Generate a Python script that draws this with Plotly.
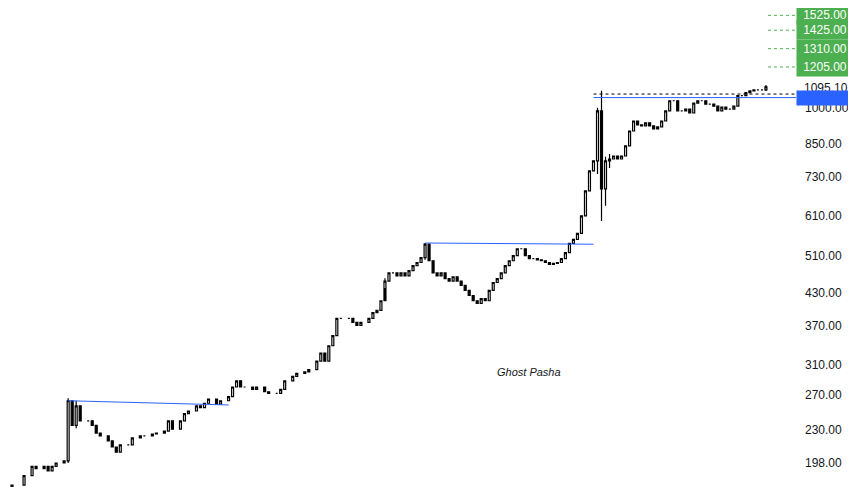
import math
import plotly.graph_objects as go

# bar number (session index) and closing price
bars = [1, 4, 6, 7, 9, 10, 11, 12, 14, 15, 16, 17, 18, 20, 21, 22, 23, 25, 26, 27, 28, 30, 31, 33, 34,
        36, 37, 39, 40, 41, 43, 44, 45, 47, 48, 49, 50, 52, 53, 55, 56, 57, 58, 59, 61, 62, 64, 65, 67,
        68, 69, 71, 72, 74, 75, 77, 78, 79, 80, 81, 82, 83, 85, 86, 87, 88, 90, 91, 92, 93, 94, 95, 96,
        97, 98, 99, 100, 101, 102, 103, 104, 105, 106, 107, 108, 109, 110, 111, 112, 113, 114, 115, 116,
        117, 118, 119, 120, 121, 122, 123, 124, 125, 126, 127, 128, 129, 130, 131, 132, 133, 134, 135,
        136, 137, 138, 139, 140, 141, 142, 143, 144, 145, 146, 147, 148, 149, 150, 151, 152, 153, 154,
        155, 156, 157, 158, 159, 160, 161, 162, 163, 164, 165, 166, 167, 168, 169, 170, 171, 172, 173,
        174, 175, 176, 177, 178, 179, 180, 181, 182, 183, 184, 185, 186, 187, 188, 189]
closes = [179, 187, 195, 193, 195, 191, 195, 198, 200, 263, 235, 257, 240, 240, 235, 227, 224, 219, 213,
          208, 215, 215, 222, 224, 224, 226, 227, 229, 240, 231, 240, 248, 251, 257, 255, 260, 265, 259,
          263, 268, 280, 288, 280, 280, 277, 280, 274, 272, 272, 277, 288, 294, 298, 300, 303, 315, 327,
          315, 338, 354, 383, 383, 383, 376, 371, 376, 383, 393, 397, 415, 454, 471, 471, 465, 471, 465,
          476, 487, 494, 505, 537, 498, 471, 465, 471, 459, 454, 463, 454, 445, 435, 425, 415, 410, 419,
          415, 435, 451, 459, 471, 487, 498, 510, 526, 526, 510, 503, 503, 500, 498, 494, 490, 492, 494,
          503, 517, 539, 549, 564, 611, 685, 750, 785, 986, 691, 785, 792, 803, 792, 803, 841, 900, 942,
          925, 921, 934, 921, 909, 917, 942, 986, 1033, 1033, 986, 986, 994, 977, 1022, 1033, 1033, 1017,
          1017, 1008, 986, 1003, 994, 994, 1008, 1057, 1057, 1072, 1081, 1086, 1086, 1086, 1101]
first_open = 176
# notable wicks: bar -> (high, low)
wicks = {15: (266, 198), 17: (263, 232), 104: (540, 500), 148: (1081, 597), 147: (1000, 740),
         149: (800, 640), 150: (810, 760), 94: (460, 440), 189: (1110, 1080)}

# horizontal levels drawn on the chart
trend_lines = [((15, 263), (55, 258)), ((104, 540), (146, 537))]
level_blue = 1048
level_dotted = 1065
targets = [1525, 1425, 1310, 1205]
axis_ticks = [198, 230, 270, 310, 370, 430, 510, 610, 730, 850, 1000]

opens = [first_open] + closes[:-1]
highs, lows = [], []
for b, o, c in zip(bars, opens, closes):
    h, l = wicks.get(b, (max(o, c), min(o, c)))
    highs.append(h)
    lows.append(l)

fig = go.Figure()
fig.add_trace(go.Candlestick(
    x=bars, open=opens, high=highs, low=lows, close=closes,
    increasing=dict(line=dict(color="black", width=1.2), fillcolor="white"),
    decreasing=dict(line=dict(color="black", width=1.2), fillcolor="black"),
    whiskerwidth=0, showlegend=False,
))

for (x0, y0), (x1, y1) in trend_lines:
    fig.add_trace(go.Scatter(x=[x0, x1], y=[y0, y1], mode="lines",
                             line=dict(color="#2962ff", width=1), showlegend=False))

fig.add_shape(type="line", xref="x", x0=146, x1=198, y0=level_blue, y1=level_blue,
              line=dict(color="#2962ff", width=1))
fig.add_shape(type="line", xref="x", x0=146, x1=198, y0=level_dotted, y1=level_dotted,
              line=dict(color="black", width=1, dash="dot"))

font = dict(size=12, family="Liberation Sans")
for t in targets:
    fig.add_shape(type="line", xref="x", x0=189.5, x1=198, y0=t, y1=t,
                  line=dict(color="#4caf50", width=1, dash="dot"))
    fig.add_annotation(xref="paper", x=1.0, y=math.log10(t), yref="y", text=f"{t:.2f}",
                       showarrow=False, xanchor="left", xshift=0, bgcolor="#4caf50", width=52,
                       font=dict(color="white", **font), borderpad=2)

fig.add_annotation(xref="paper", x=1.0, y=math.log10(1095.1), yref="y", text="1095.10",
                   showarrow=False, xanchor="left", xshift=6, font=dict(color="#131722", **font))
fig.add_annotation(xref="paper", x=1.0, y=math.log10(level_blue), yref="y", text="1048.00",
                   showarrow=False, xanchor="left", xshift=0, bgcolor="#2962ff", width=62,
                   font=dict(color="#2962ff", **font), borderpad=0)
fig.add_annotation(x=130, y=math.log10(300), text="<i>Ghost Pasha</i>", showarrow=False,
                   font=dict(color="#131722", size=11, family="Liberation Sans"))

fig.update_layout(
    width=856, height=487,
    margin=dict(l=0, r=68, t=0, b=0),
    paper_bgcolor="white", plot_bgcolor="white",
    xaxis=dict(range=[0, 196.5], showgrid=False, showticklabels=False, zeroline=False,
               rangeslider=dict(visible=False)),
    yaxis=dict(type="log", side="right", range=[2.2333, 3.1978], showgrid=False,
               tickvals=axis_ticks, ticktext=[f"{v:.2f}" for v in axis_ticks], ticks="",
               ticklabelstandoff=8, tickfont=dict(color="#131722", **font), zeroline=False),
)

fig.write_html("out.html")
